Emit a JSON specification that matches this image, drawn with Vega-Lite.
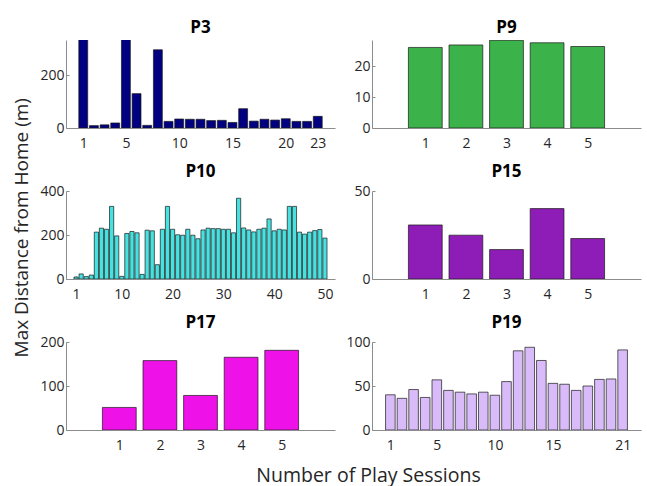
{
  "$schema": "https://vega.github.io/schema/vega-lite/v6.json",
  "background": "white",
  "padding": {"left": 12, "top": 19, "right": 2, "bottom": 4},
  "title": {"text": "Max Distance from Home (m)", "orient": "left", "anchor": "middle", "fontSize": 19, "fontWeight": "normal", "color": "#262626", "offset": 8, "dx": 24},
  "columns": 2,
  "spacing": {"row": 63, "column": 37},
  "bounds": "flush",
  "datasets": {
    "p3": [
      {"s": 1, "d": 400}, {"s": 2, "d": 9}, {"s": 3, "d": 12}, {"s": 4, "d": 19}, {"s": 5, "d": 400},
      {"s": 6, "d": 130}, {"s": 7, "d": 10}, {"s": 8, "d": 296}, {"s": 9, "d": 25}, {"s": 10, "d": 34},
      {"s": 11, "d": 33}, {"s": 12, "d": 33}, {"s": 13, "d": 28}, {"s": 14, "d": 29}, {"s": 15, "d": 21},
      {"s": 16, "d": 73}, {"s": 17, "d": 26}, {"s": 18, "d": 33}, {"s": 19, "d": 30}, {"s": 20, "d": 35},
      {"s": 21, "d": 25}, {"s": 22, "d": 25}, {"s": 23, "d": 44}
    ],
    "p9": [
      {"s": 1, "d": 26.0}, {"s": 2, "d": 26.8}, {"s": 3, "d": 28.3}, {"s": 4, "d": 27.5}, {"s": 5, "d": 26.3}
    ],
    "p10": [
      {"s": 1, "d": 9}, {"s": 2, "d": 23}, {"s": 3, "d": 11}, {"s": 4, "d": 18}, {"s": 5, "d": 213},
      {"s": 6, "d": 231}, {"s": 7, "d": 226}, {"s": 8, "d": 330}, {"s": 9, "d": 196}, {"s": 10, "d": 12},
      {"s": 11, "d": 207}, {"s": 12, "d": 216}, {"s": 13, "d": 210}, {"s": 14, "d": 21}, {"s": 15, "d": 222},
      {"s": 16, "d": 219}, {"s": 17, "d": 65}, {"s": 18, "d": 226}, {"s": 19, "d": 330}, {"s": 20, "d": 226},
      {"s": 21, "d": 201}, {"s": 22, "d": 199}, {"s": 23, "d": 226}, {"s": 24, "d": 199}, {"s": 25, "d": 183},
      {"s": 26, "d": 223}, {"s": 27, "d": 231}, {"s": 28, "d": 229}, {"s": 29, "d": 229}, {"s": 30, "d": 226},
      {"s": 31, "d": 226}, {"s": 32, "d": 210}, {"s": 33, "d": 367}, {"s": 34, "d": 232}, {"s": 35, "d": 223},
      {"s": 36, "d": 214}, {"s": 37, "d": 226}, {"s": 38, "d": 231}, {"s": 39, "d": 273}, {"s": 40, "d": 219},
      {"s": 41, "d": 226}, {"s": 42, "d": 223}, {"s": 43, "d": 330}, {"s": 44, "d": 330}, {"s": 45, "d": 213},
      {"s": 46, "d": 204}, {"s": 47, "d": 213}, {"s": 48, "d": 220}, {"s": 49, "d": 225}, {"s": 50, "d": 186}
    ],
    "p15": [
      {"s": 1, "d": 30.7}, {"s": 2, "d": 24.9}, {"s": 3, "d": 16.7}, {"s": 4, "d": 40.0}, {"s": 5, "d": 23.0}
    ],
    "p17": [
      {"s": 1, "d": 51.3}, {"s": 2, "d": 157.7}, {"s": 3, "d": 78.5}, {"s": 4, "d": 165.3}, {"s": 5, "d": 181.1}
    ],
    "p19": [
      {"s": 1, "d": 40}, {"s": 2, "d": 36}, {"s": 3, "d": 46}, {"s": 4, "d": 37}, {"s": 5, "d": 57},
      {"s": 6, "d": 45}, {"s": 7, "d": 43}, {"s": 8, "d": 41}, {"s": 9, "d": 43}, {"s": 10, "d": 39.5},
      {"s": 11, "d": 55}, {"s": 12, "d": 90}, {"s": 13, "d": 94}, {"s": 14, "d": 79}, {"s": 15, "d": 53},
      {"s": 16, "d": 52}, {"s": 17, "d": 45}, {"s": 18, "d": 50}, {"s": 19, "d": 57.5}, {"s": 20, "d": 58},
      {"s": 21, "d": 91}
    ]
  },
  "concat": [
    {
      "width": 269, "height": 88,
      "title": "P3",
      "data": {"name": "p3"},
      "mark": {"type": "bar", "orient": "vertical", "color": "#000080", "size": 8.9, "stroke": "#1a1a1a", "strokeWidth": 0.7, "clip": true},
      "encoding": {
        "x": {"field": "s", "type": "quantitative", "scale": {"domain": [-0.15, 24.15], "nice": false, "zero": false}, "axis": {"values": [1, 5, 10, 15, 20, 23], "title": null}},
        "y": {"field": "d", "type": "quantitative", "scale": {"domain": [0, 333], "nice": false}, "axis": {"values": [0, 200], "title": null}}
      }
    },
    {
      "width": 269, "height": 88,
      "title": "P9",
      "data": {"name": "p9"},
      "mark": {"type": "bar", "orient": "vertical", "color": "#3BB34A", "size": 33.8, "stroke": "#1a1a1a", "strokeWidth": 0.7, "clip": true},
      "encoding": {
        "x": {"field": "s", "type": "quantitative", "scale": {"domain": [-0.19, 6.19], "nice": false, "zero": false}, "axis": {"values": [1, 2, 3, 4, 5], "title": null}},
        "y": {"field": "d", "type": "quantitative", "scale": {"domain": [0, 28.4], "nice": false}, "axis": {"values": [0, 10, 20], "title": null}}
      }
    },
    {
      "width": 269, "height": 88,
      "title": "P10",
      "data": {"name": "p10"},
      "mark": {"type": "bar", "orient": "vertical", "color": "#45E2E2", "size": 4.2, "stroke": "#1a1a1a", "strokeWidth": 0.7, "clip": true},
      "encoding": {
        "x": {"field": "s", "type": "quantitative", "scale": {"domain": [0, 51], "nice": false, "zero": false}, "axis": {"values": [1, 10, 20, 30, 40, 50], "title": null}},
        "y": {"field": "d", "type": "quantitative", "scale": {"domain": [0, 400], "nice": false}, "axis": {"values": [0, 200, 400], "title": null}}
      }
    },
    {
      "width": 269, "height": 88,
      "title": "P15",
      "data": {"name": "p15"},
      "mark": {"type": "bar", "orient": "vertical", "color": "#8E1CB6", "size": 33.8, "stroke": "#1a1a1a", "strokeWidth": 0.7, "clip": true},
      "encoding": {
        "x": {"field": "s", "type": "quantitative", "scale": {"domain": [-0.19, 6.19], "nice": false, "zero": false}, "axis": {"values": [1, 2, 3, 4, 5], "title": null}},
        "y": {"field": "d", "type": "quantitative", "scale": {"domain": [0, 50], "nice": false}, "axis": {"values": [0, 50], "title": null}}
      }
    },
    {
      "width": 269, "height": 88,
      "title": "P17",
      "data": {"name": "p17"},
      "mark": {"type": "bar", "orient": "vertical", "color": "#EE11E8", "size": 33.8, "stroke": "#1a1a1a", "strokeWidth": 0.7, "clip": true},
      "encoding": {
        "x": {"field": "s", "type": "quantitative", "scale": {"domain": [-0.19, 6.19], "nice": false, "zero": false}, "axis": {"values": [1, 2, 3, 4, 5], "title": "Number of Play Sessions", "titleFontSize": 19.5, "titleFontWeight": "normal", "titleColor": "#262626", "titleX": 302, "titleY": 51, "titleBaseline": "alphabetic", "titleAlign": "center"}},
        "y": {"field": "d", "type": "quantitative", "scale": {"domain": [0, 200], "nice": false}, "axis": {"values": [0, 100, 200], "title": null}}
      }
    },
    {
      "width": 269, "height": 88,
      "title": "P19",
      "data": {"name": "p19"},
      "mark": {"type": "bar", "orient": "vertical", "color": "#D8BBF8", "size": 9.6, "stroke": "#1a1a1a", "strokeWidth": 0.7, "clip": true},
      "encoding": {
        "x": {"field": "s", "type": "quantitative", "scale": {"domain": [-0.15, 22.15], "nice": false, "zero": false}, "axis": {"values": [1, 5, 10, 15, 21], "title": null}},
        "y": {"field": "d", "type": "quantitative", "scale": {"domain": [0, 100], "nice": false}, "axis": {"values": [0, 50, 100], "title": null}}
      }
    }
  ],
  "config": {
    "font": "Open Sans",
    "view": {"stroke": null},
    "axis": {
      "grid": false,
      "domainColor": "#8c8c8c",
      "domainWidth": 1,
      "tickColor": "#8c8c8c",
      "tickSize": -3,
      "labelFont": "Open Sans",
      "labelFontSize": 14,
      "labelColor": "#262626",
      "labelOverlap": false,
      "labelFlush": false,
      "labelBound": false,
      "labelAngle": 0,
      "titleFont": "Open Sans"
    },
    "axisX": {"labelPadding": 11},
    "axisY": {"labelPadding": 5},
    "title": {"font": "Open Sans", "fontSize": 17, "fontWeight": "bold", "color": "#000000", "offset": 3}
  }
}
